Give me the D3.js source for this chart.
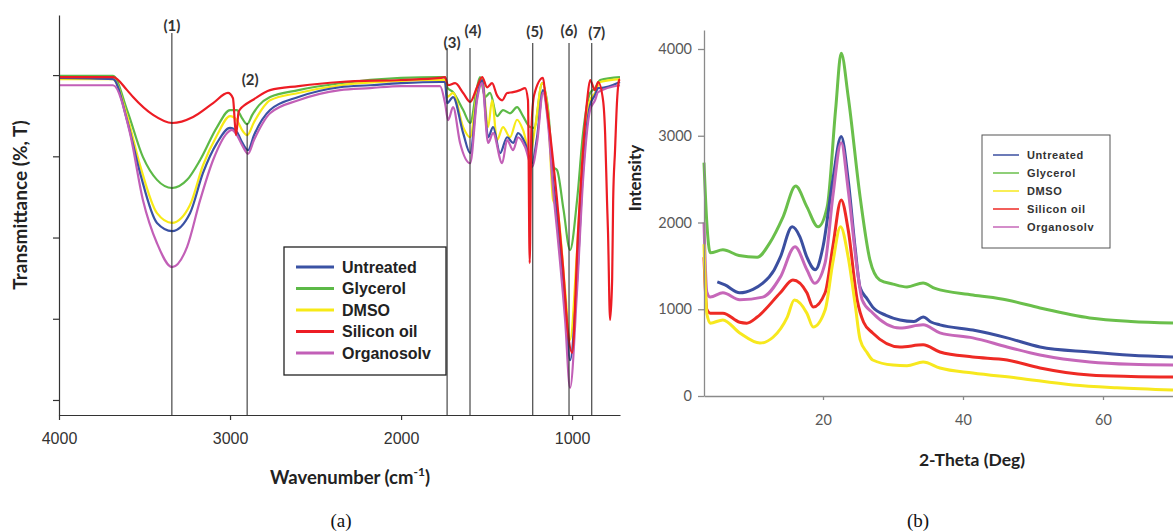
<!DOCTYPE html>
<html>
<head>
<meta charset="utf-8">
<script src="https://cdn.jsdelivr.net/npm/d3@7/dist/d3.min.js"></script>
<style>
  body { margin: 0; background: #fff; }
  svg { display: block; }
</style>
</head>
<body>
<svg id="fig" width="1173" height="532"></svg>
<script>
// series shared by both panels
const seriesNames = ["Untreated", "Glycerol", "DMSO", "Silicon oil", "Organosolv"];
const ftirColors = ["#3a52a4", "#5cb947", "#f7ea16", "#ed1c24", "#c25fb7"];
const xrdColors = ["#3b4fa0", "#6abf4b", "#f7e81e", "#ee2a24", "#c667b9"];

// (a) FTIR: [wavenumber cm-1, transmittance (arbitrary %T)]
const ftirUntreated = [[4000,79.3],[3684,79.0],[3602,68.9],[3526,55.9],[3427,43.6],[3339,41.6],[3234,46.0],[3158,55.9],[3076,63.3],[3000,67.0],[2960,66.0],[2930,63.5],[2895,61.5],[2860,65.2],[2766,71.4],[2600,74.6],[2357,77.0],[2181,77.5],[2000,78.0],[1772,78.3],[1743,78.3],[1731,73.1],[1696,74.6],[1637,65.7],[1596,60.8],[1556,74.6],[1526,78.8],[1491,64.7],[1462,67.2],[1421,60.8],[1380,64.7],[1345,63.3],[1316,65.7],[1275,63.3],[1234,58.3],[1205,64.7],[1170,76.3],[1140,68.9],[1111,54.2],[1088,45.5],[1041,24.6],[1012,9.8],[971,29.5],[936,56.6],[895,72.6],[866,75.1],[848,76.8],[836,76.8],[720,78.3]];
const ftirGlycerol = [[4000,79.8],[3684,79.8],[3602,71.4],[3509,59.8],[3427,54.2],[3339,52.2],[3251,54.2],[3175,59.1],[3076,67.2],[3000,71.4],[2960,71.4],[2930,69.4],[2900,67.9],[2870,70.2],[2830,72.6],[2766,74.6],[2600,76.3],[2357,78.0],[2000,79.3],[1772,79.5],[1743,79.5],[1731,77.0],[1696,75.8],[1637,71.4],[1596,68.2],[1556,77.0],[1538,79.5],[1509,74.6],[1480,75.6],[1439,69.9],[1404,71.4],[1363,70.6],[1322,72.1],[1287,69.9],[1246,67.2],[1222,67.0],[1175,78.0],[1140,71.4],[1111,57.4],[1088,56.6],[1050,46.8],[1012,36.9],[971,49.2],[936,65.7],[895,75.6],[866,76.8],[836,78.8],[720,79.5]];
const ftirDMSO = [[4000,79.0],[3684,79.0],[3602,69.9],[3526,57.8],[3427,46.0],[3339,43.6],[3234,48.0],[3158,57.8],[3076,65.2],[3000,69.9],[2960,68.9],[2930,66.5],[2900,65.2],[2860,68.4],[2766,73.8],[2600,75.6],[2357,77.5],[2000,78.6],[1772,78.8],[1743,78.8],[1731,74.6],[1696,75.6],[1637,67.2],[1596,64.7],[1556,75.6],[1526,79.3],[1491,67.2],[1468,73.8],[1439,64.0],[1404,67.2],[1363,64.7],[1322,69.0],[1287,66.5],[1246,60.8],[1216,67.2],[1175,78.0],[1140,70.2],[1111,49.2],[1088,47.5],[1041,27.1],[1012,14.8],[971,36.9],[936,61.5],[895,73.8],[866,75.6],[836,78.3],[720,79.0]];
const ftirSiliconOil = [[4000,79.5],[3684,79.5],[3602,76.3],[3567,74.6],[3450,70.2],[3339,68.2],[3216,69.7],[3099,73.1],[3012,75.6],[2983,74.3],[2965,65.2],[2950,70.9],[2935,71.9],[2915,72.6],[2870,73.8],[2766,76.3],[2600,77.3],[2357,78.3],[2000,78.8],[1772,79.3],[1743,79.5],[1725,77.5],[1684,78.0],[1637,75.6],[1596,73.4],[1556,77.0],[1526,79.5],[1497,77.0],[1468,78.0],[1439,75.0],[1409,73.8],[1380,75.6],[1345,75.8],[1304,76.3],[1275,76.8],[1258,73.8],[1248,33.7],[1238,66.5],[1222,75.1],[1170,79.3],[1158,75.6],[1129,65.7],[1088,49.2],[1053,32.7],[1024,16.5],[1000,11.6],[965,41.8],[912,73.8],[895,78.8],[866,76.3],[848,78.3],[819,73.8],[807,65.7],[796,49.2],[790,41.1],[778,19.7],[766,29.5],[760,49.2],[749,61.5],[737,73.8],[725,78.8],[720,79.0]];
const ftirOrganosolv = [[4000,77.5],[3684,77.5],[3585,65.7],[3509,49.2],[3427,38.6],[3339,32.7],[3251,37.7],[3175,49.2],[3099,59.1],[3018,65.7],[2990,66.5],[2960,65.2],[2930,62.8],[2895,60.6],[2860,64.0],[2766,70.6],[2600,73.8],[2357,76.3],[2181,76.8],[2000,77.3],[1772,77.3],[1743,73.1],[1725,68.9],[1696,72.1],[1655,63.3],[1596,58.3],[1556,73.8],[1526,78.0],[1491,63.3],[1462,65.7],[1409,58.3],[1380,64.0],[1345,61.5],[1316,64.7],[1275,62.3],[1234,57.4],[1205,63.3],[1170,75.6],[1140,67.7],[1111,51.7],[1088,41.8],[1041,19.7],[1012,3.0],[971,27.1],[936,54.2],[895,71.4],[866,73.8],[848,75.8],[720,77.5]];

// marked bands (cm-1)
const bandWavenumbers = [3340, 2900, 1731, 1597, 1230, 1018, 885];
const bandLabels = ["(1)", "(2)", "(3)", "(4)", "(5)", "(6)", "(7)"];
const ftirTicks = [4000, 3000, 2000, 1000];

// (b) XRD: [2-theta deg, intensity]
const xrdUntreated = [[4.9,1315],[6,1280],[8.1,1190],[10,1230],[11.4,1300],[13,1450],[13.9,1600],[15.6,1950],[16.7,1835],[17.7,1600],[18.9,1455],[20,1720],[21.4,2490],[22.6,2990],[23.6,2490],[24.6,1700],[25.3,1250],[26.3,1120],[27.1,1025],[29,930],[31,877],[33,860],[34.3,911],[35.5,850],[36.7,820],[41.4,760],[46.3,670],[51,565],[58.1,507],[64,470],[70,450]];
const xrdGlycerol = [[3,2690],[3.4,2000],[3.9,1650],[5.7,1685],[8,1620],[10.6,1600],[12.4,1765],[14.3,2065],[16.1,2420],[17.7,2180],[19.3,1950],[20.6,2180],[21.8,3300],[22.6,3950],[23.6,3450],[25.3,2295],[26.7,1570],[28.1,1338],[30,1290],[32,1257],[34.3,1303],[36,1240],[41.4,1165],[46.3,1107],[51,1015],[58.1,900],[64,860],[70,842]];
const xrdDMSO = [[3,1750],[3.4,950],[3.9,840],[5.7,877],[8.1,727],[11,610],[12.9,680],[14.9,910],[15.9,1107],[17.7,955],[18.6,795],[20.3,990],[21.4,1535],[22.5,1950],[23.6,1600],[24.6,1050],[25.3,650],[26.3,500],[27.1,415],[30,357],[32,350],[34.3,392],[36.7,323],[41.4,265],[47.7,208],[55.7,127],[62,95],[70,69]];
const xrdSiliconOil = [[3,1600],[3.4,1000],[3.9,955],[5.7,955],[8.1,850],[9.1,840],[10.6,910],[13.9,1190],[15.7,1338],[17.7,1190],[18.6,1025],[20.3,1190],[21.4,1720],[22.6,2260],[23.6,1915],[24.9,1100],[25.8,850],[27.1,727],[31,565],[34.3,590],[36.7,507],[41.4,450],[46.3,415],[51,323],[58.1,242],[64,225],[70,219]];
const xrdOrganosolv = [[3,2000],[3.4,1200],[3.9,1140],[5.7,1190],[8.1,1110],[11.4,1140],[13.9,1370],[16,1720],[17.7,1455],[18.8,1300],[20.3,1535],[21.4,2295],[22.6,2920],[23.6,2375],[24.9,1455],[25.6,1107],[27.1,957],[31,784],[34.3,820],[36.7,727],[41.4,670],[46.3,565],[51,473],[58.1,392],[64,365],[70,357]];
const xrdXTicks = [20, 40, 60];
const xrdYTicks = [0, 1000, 2000, 3000, 4000];

const ftirSeries = [ftirUntreated, ftirGlycerol, ftirDMSO, ftirSiliconOil, ftirOrganosolv];
const xrdSeries = [xrdUntreated, xrdGlycerol, xrdDMSO, xrdSiliconOil, xrdOrganosolv];

const svg = d3.select("#fig");
const titleFont = "Lato, 'Open Sans', sans-serif";
const armFont = "'Liberation Sans', Arial, sans-serif";

// ---------------- (a) FTIR ----------------
const ftX = d3.scaleLinear().domain([4000, 720]).range([59, 620]);
const ftY = d3.scaleLinear().domain([-3.7, 94.8]).range([415, 15]);
const pa = svg.append("g");

const ftLine = d3.line()
  .x(d => ftX(d[0]))
  .y(d => ftY(d[1]))
  .curve(d3.curveMonotoneX);

// green at the back, purple and red on top
[1, 2, 0, 4, 3].forEach(i => {
  pa.append("path")
    .datum(ftirSeries[i])
    .attr("fill", "none")
    .attr("stroke", ftirColors[i])
    .attr("stroke-width", 2.2)
    .attr("stroke-linejoin", "round")
    .attr("d", ftLine);
});

// band markers
const bandLayout = [
  { top: 33, ly: 26, dx: 0 },
  { top: 123, ly: 80, dx: 3 },
  { top: 48, ly: 43, dx: 5 },
  { top: 48, ly: 31, dx: 3 },
  { top: 43, ly: 32, dx: 2 },
  { top: 43, ly: 31, dx: 0 },
  { top: 43, ly: 33, dx: 5 }
];
bandWavenumbers.forEach((w, i) => {
  const x = ftX(w);
  pa.append("line")
    .attr("x1", x).attr("x2", x)
    .attr("y1", bandLayout[i].top).attr("y2", ftY.range()[0])
    .attr("stroke", "#222").attr("stroke-width", 1);
  pa.append("text")
    .attr("x", x + bandLayout[i].dx)
    .attr("y", bandLayout[i].ly)
    .attr("dy", "0.35em")
    .attr("text-anchor", "middle")
    .style("font-family", titleFont)
    .style("font-weight", "bold")
    .style("font-size", "15px")
    .attr("fill", "#333")
    .text(bandLabels[i]);
});

const ftXAxis = pa.append("g")
  .attr("transform", "translate(0,415)")
  .call(d3.axisBottom(ftX).tickValues(ftirTicks).tickSize(5).tickSizeOuter(0).tickPadding(13).tickFormat(d3.format("d")));
const ftYAxis = pa.append("g")
  .attr("transform", "translate(59,0)")
  .call(d3.axisLeft(ftY).tickValues([0, 20, 40, 60, 80]).tickSize(6).tickSizeOuter(0).tickFormat(""));
[ftXAxis, ftYAxis].forEach(g => {
  g.selectAll("path, line").attr("stroke", "#333").attr("stroke-width", 1.2);
  g.selectAll("text")
    .style("font-family", armFont)
    .style("font-size", "16px")
    .attr("fill", "#333");
});

pa.append("text")
  .attr("transform", "translate(20,205) rotate(-90)")
  .attr("text-anchor", "middle")
  .attr("dy", "0.35em")
  .style("font-family", titleFont)
  .style("font-weight", "bold")
  .style("font-size", "19px")
  .attr("fill", "#222")
  .text("Transmittance (%, T)");

const wnLabel = pa.append("text")
  .attr("x", 350).attr("y", 484)
  .attr("text-anchor", "middle")
  .style("font-family", titleFont)
  .style("font-weight", "bold")
  .style("font-size", "18.5px")
  .attr("fill", "#222");
wnLabel.append("tspan").text("Wavenumber (cm");
wnLabel.append("tspan").attr("dy", -8).style("font-size", "12px").text("-1");
wnLabel.append("tspan").attr("dy", 8).text(")");

// legend (a)
const lgA = pa.append("g");
lgA.append("rect")
  .attr("x", 284).attr("y", 247).attr("width", 162).attr("height", 128)
  .attr("fill", "#fff").attr("stroke", "#222").attr("stroke-width", 1.3);
seriesNames.forEach((name, i) => {
  const y = 267 + i * 21.5;
  lgA.append("line")
    .attr("x1", 296).attr("x2", 334).attr("y1", y).attr("y2", y)
    .attr("stroke", ftirColors[i]).attr("stroke-width", 3);
  lgA.append("text")
    .attr("x", 342).attr("y", y).attr("dy", "0.35em")
    .style("font-family", armFont)
    .style("font-weight", "bold")
    .style("font-size", "16px")
    .attr("fill", "#222")
    .text(name);
});

pa.append("text")
  .attr("x", 341).attr("y", 520).attr("dy", "0.35em")
  .attr("text-anchor", "middle")
  .style("font-family", "'Liberation Serif', 'Times New Roman', serif")
  .style("font-size", "19px")
  .attr("fill", "#111")
  .text("(a)");

// ---------------- (b) XRD ----------------
const xrX = d3.scaleLinear().domain([3, 70]).range([704, 1173]);
const xrY = d3.scaleLinear().domain([0, 4219]).range([396, 30]);
const pb = svg.append("g");

const xrLine = d3.line()
  .x(d => xrX(d[0]))
  .y(d => xrY(d[1]))
  .curve(d3.curveMonotoneX);

[1, 0, 4, 3, 2].forEach(i => {
  pb.append("path")
    .datum(xrdSeries[i])
    .attr("fill", "none")
    .attr("stroke", xrdColors[i])
    .attr("stroke-width", 3)
    .attr("stroke-linejoin", "round")
    .attr("d", xrLine);
});

const xrXAxis = pb.append("g")
  .attr("transform", "translate(0,396)")
  .call(d3.axisBottom(xrX).tickValues(xrdXTicks).tickSize(4).tickSizeOuter(0).tickPadding(15));
const xrYAxis = pb.append("g")
  .attr("transform", "translate(704,0)")
  .call(d3.axisLeft(xrY).tickValues(xrdYTicks).tickSize(6).tickSizeOuter(0).tickPadding(6).tickFormat(d3.format("d")));
[xrXAxis, xrYAxis].forEach(g => {
  g.selectAll("path, line").attr("stroke", "#8a8a8a").attr("stroke-width", 1.3);
  g.selectAll("text")
    .style("font-family", titleFont)
    .style("font-size", "14.5px")
    .attr("fill", "#595959");
});

pb.append("text")
  .attr("transform", "translate(635,178) rotate(-90)")
  .attr("text-anchor", "middle")
  .attr("dy", "0.35em")
  .style("font-family", titleFont)
  .style("font-weight", "bold")
  .style("font-size", "17px")
  .attr("fill", "#222")
  .text("Intensity");

pb.append("text")
  .attr("x", 972).attr("y", 460).attr("dy", "0.35em")
  .attr("text-anchor", "middle")
  .style("font-family", titleFont)
  .style("font-weight", "bold")
  .style("font-size", "17.5px")
  .attr("fill", "#222")
  .text("2-Theta (Deg)");

// legend (b)
const lgB = pb.append("g");
lgB.append("rect")
  .attr("x", 982).attr("y", 135).attr("width", 128).attr("height", 113)
  .attr("fill", "#fff").attr("stroke", "#555").attr("stroke-width", 1);
seriesNames.forEach((name, i) => {
  const y = 155 + i * 18;
  lgB.append("line")
    .attr("x1", 993).attr("x2", 1019).attr("y1", y).attr("y2", y)
    .attr("stroke", xrdColors[i]).attr("stroke-width", 1.5);
  lgB.append("text")
    .attr("x", 1027).attr("y", y).attr("dy", "0.35em")
    .style("font-family", armFont)
    .style("font-weight", "bold")
    .style("font-size", "11px")
    .style("letter-spacing", "0.6px")
    .attr("fill", "#333")
    .text(name);
});

pb.append("text")
  .attr("x", 918).attr("y", 520).attr("dy", "0.35em")
  .attr("text-anchor", "middle")
  .style("font-family", "'Liberation Serif', 'Times New Roman', serif")
  .style("font-size", "19px")
  .attr("fill", "#111")
  .text("(b)");
</script>
</body>
</html>
